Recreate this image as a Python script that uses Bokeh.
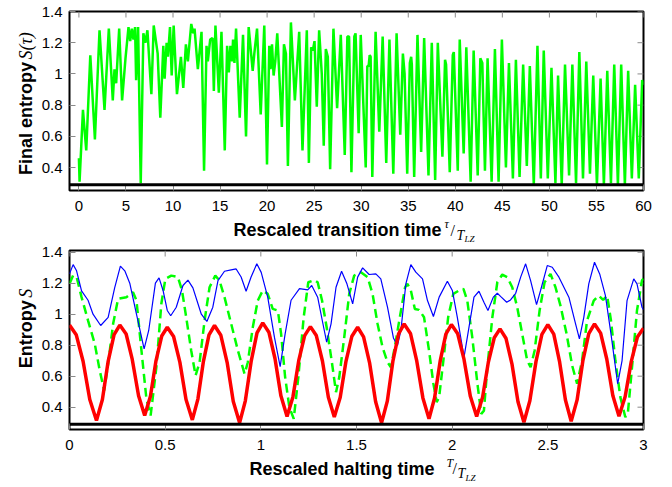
import math
from bokeh.plotting import figure
from bokeh.models import Label, FixedTicker, Range1d, Span
from bokeh.layouts import column, row
from bokeh.embed import file_html
from bokeh.resources import INLINE

# ---------------- data: top panel (final entropy vs tau/T_LZ) ----------------
top_x = [0.0, 0.07, 0.43, 0.78, 1.21, 1.70, 2.19, 2.72, 3.18, 3.60, 3.78, 3.96, 4.28, 4.59, 4.95,
         5.27, 5.45, 5.62, 5.80, 5.97, 6.08, 6.29, 6.57, 6.85, 7.06, 7.28, 7.70, 7.95, 8.37, 8.65,
         8.97, 9.11, 9.32, 9.46, 9.68, 9.86, 10.07, 10.42, 10.84, 11.09, 11.37, 11.58, 11.94, 12.15,
         12.29, 12.64, 13.03, 13.30, 13.56, 13.70, 13.95, 14.20, 14.34, 14.51, 14.87, 15.15, 15.50,
         15.75, 15.93, 16.10, 16.28, 16.38, 16.53, 16.70, 17.09, 17.44, 17.76, 18.04, 18.47, 18.64,
         18.93, 19.32, 19.70, 19.99, 20.23, 20.37, 20.52, 20.69, 20.87, 21.08, 21.57, 21.79, 22.00,
         22.21, 22.53, 22.95, 23.41, 23.76, 24.22, 24.44, 24.68, 24.86, 25.04, 25.28, 25.53, 25.81,
         26.02, 26.24, 26.45, 26.70, 27.05, 27.44, 27.83, 28.25, 28.53, 28.71, 28.96, 29.27, 29.40,
         29.73, 29.95, 30.48, 30.65, 30.79, 30.90, 31.00, 31.18, 31.53, 31.92, 32.28, 32.66, 33.00,
         33.41, 33.76, 34.15, 34.43, 34.61, 34.89, 35.17, 35.31, 35.38, 35.63, 35.98, 36.37, 36.69,
         37.15, 37.50, 37.86, 38.14, 38.63, 38.91, 39.02, 39.41, 39.73, 39.84, 40.26, 40.47, 40.89,
         41.17, 41.63, 41.95, 42.38, 42.66, 42.87, 43.15, 43.43, 43.86, 44.21, 44.60, 44.95, 45.38,
         45.70, 46.12, 46.44, 46.83, 47.21, 47.60, 47.92, 48.34, 48.73, 49.09, 49.40, 49.83, 50.22,
         50.64, 50.92, 51.31, 51.66, 52.09, 52.44, 52.83, 53.18, 53.57, 53.92, 54.31, 54.66, 55.05,
         55.44, 55.79, 56.15, 56.54, 56.89, 57.28, 57.63, 58.02, 58.37, 58.76, 59.11, 59.50, 59.86,
         60.00]
top_y = [0.46, 0.31, 0.77, 0.51, 1.12, 0.58, 1.28, 0.77, 1.29, 0.83, 1.03, 0.94, 1.29, 0.83, 1.10,
         1.30, 1.21, 1.29, 1.22, 1.30, 0.96, 1.30, 0.30, 1.26, 1.20, 1.28, 0.87, 1.31, 1.13, 0.72,
         1.18, 0.97, 1.20, 1.11, 1.30, 0.99, 1.31, 0.87, 1.11, 0.91, 1.19, 1.08, 1.32, 1.26,
         1.29, 1.03, 1.27, 0.38, 1.18, 1.08, 1.22, 1.23, 0.89, 1.31, 0.88, 1.27, 0.51,
         1.18, 1.01, 1.18, 1.08, 1.22, 1.07, 1.29, 0.72, 1.25, 0.60, 1.30, 1.02, 1.13,
         1.29, 0.74, 1.31, 0.42, 1.18, 1.03, 1.19, 0.99, 1.08, 1.26, 0.66, 1.19, 1.13,
         0.41, 1.33, 0.83, 1.27, 0.51, 1.28, 0.43, 1.17, 1.15, 1.21, 0.79, 1.28, 1.00,
         0.54, 1.16, 1.11, 0.39, 1.29, 0.78, 1.25, 0.48, 1.24, 1.24, 0.37, 1.24, 1.26,
         0.62, 1.25, 0.40, 1.05, 1.05, 1.12, 1.11, 0.34, 1.27, 0.63, 1.24, 0.43, 1.22,
         0.36, 1.26, 0.61, 1.13, 1.00, 0.36, 1.07, 1.11, 1.06, 0.34, 1.25, 0.50, 1.23,
         0.35, 1.20, 0.32, 1.20, 0.47, 1.09, 1.06, 0.37, 1.12, 1.14, 0.38, 1.22, 0.49,
         1.17, 0.31, 1.15, 0.35, 1.10, 1.07, 0.38, 1.10, 0.31, 1.16, 0.31, 1.22, 0.40,
         1.07, 0.33, 1.09, 0.34, 1.06, 0.41, 1.05, 0.29, 1.18, 0.33, 1.15, 0.33, 1.04,
         0.30, 0.99, 0.29, 1.06, 0.35, 1.06, 0.30, 1.14, 0.33, 1.08, 0.36, 0.99, 0.29,
         0.97, 0.29, 1.02, 0.30, 1.06, 0.29, 1.06, 0.29, 1.02, 0.33, 0.93, 0.33, 0.96,
         0.93]

# ---------------- data: bottom panel (entropy vs T/T_LZ) ----------------
red_x = [0.000, 0.035, 0.071, 0.106, 0.141, 0.172, 0.202, 0.233, 0.263, 0.296, 0.328, 0.361, 0.393,
         0.423, 0.452, 0.482, 0.511, 0.544, 0.577, 0.609, 0.642, 0.671, 0.700, 0.729, 0.758,
         0.791, 0.824, 0.856, 0.889, 0.919, 0.950, 0.980, 1.010, 1.042, 1.074, 1.105, 1.137,
         1.168, 1.198, 1.229, 1.259, 1.290, 1.322, 1.353, 1.384, 1.415, 1.445, 1.476, 1.506,
         1.537, 1.569, 1.600, 1.631, 1.661, 1.690, 1.720, 1.749, 1.782, 1.814, 1.847, 1.879,
         1.908, 1.938, 1.967, 1.996, 2.029, 2.062, 2.095, 2.128, 2.159, 2.189, 2.220, 2.250,
         2.281, 2.313, 2.344, 2.375, 2.406, 2.438, 2.469, 2.500, 2.531, 2.561, 2.592, 2.622,
         2.653, 2.683, 2.714, 2.744, 2.776, 2.808, 2.840, 2.872, 2.904, 2.936, 2.968, 3.000]
red_y = [0.930, 0.868, 0.696, 0.450, 0.314, 0.450, 0.696, 0.868, 0.930, 0.872, 0.708, 0.474, 0.346,
         0.471, 0.699, 0.859, 0.916, 0.856, 0.689, 0.450, 0.318, 0.452, 0.696, 0.866, 0.927,
         0.864, 0.688, 0.437, 0.299, 0.441, 0.699, 0.879, 0.944, 0.884, 0.714, 0.473, 0.340,
         0.468, 0.700, 0.862, 0.920, 0.862, 0.698, 0.464, 0.336, 0.464, 0.696, 0.858, 0.916,
         0.854, 0.682, 0.435, 0.299, 0.439, 0.695, 0.873, 0.937, 0.876, 0.704, 0.460, 0.325,
         0.459, 0.702, 0.872, 0.933, 0.874, 0.708, 0.470, 0.340, 0.464, 0.690, 0.848, 0.905,
         0.845, 0.676, 0.435, 0.303, 0.442, 0.694, 0.870, 0.933, 0.871, 0.696, 0.446, 0.309,
         0.447, 0.698, 0.874, 0.937, 0.878, 0.711, 0.473, 0.342, 0.467, 0.694, 0.853, 0.910]

blue_x = [0.000, 0.019, 0.037, 0.063, 0.097, 0.123, 0.163, 0.202, 0.236, 0.266, 0.289, 0.315, 0.350,
          0.390, 0.414, 0.449, 0.468, 0.489, 0.511, 0.529, 0.558, 0.593, 0.619, 0.645, 0.689,
          0.718, 0.749, 0.776, 0.810, 0.845, 0.871, 0.897, 0.923, 0.949, 0.979, 1.002, 1.036,
          1.071, 1.101, 1.127, 1.158, 1.202, 1.245, 1.266, 1.297, 1.323, 1.344, 1.367, 1.393,
          1.422, 1.450, 1.480, 1.506, 1.532, 1.566, 1.601, 1.627, 1.662, 1.693, 1.714, 1.732,
          1.758, 1.784, 1.810, 1.845, 1.871, 1.902, 1.932, 1.975, 2.001, 2.027, 2.062, 2.088,
          2.114, 2.140, 2.166, 2.187, 2.215, 2.236, 2.257, 2.285, 2.305, 2.332, 2.358, 2.384,
          2.410, 2.441, 2.462, 2.497, 2.523, 2.558, 2.610, 2.645, 2.665, 2.688, 2.714, 2.744,
          2.771, 2.801, 2.830, 2.865, 2.888, 2.914, 2.949, 2.966, 2.992, 3.000]
blue_y = [1.260, 1.320, 1.280, 1.150, 1.090, 1.000, 0.927, 0.980, 1.170, 1.310, 1.280, 1.200, 1.000,
          0.776, 0.895, 1.200, 1.234, 1.153, 1.024, 0.990, 1.045, 1.185, 1.220, 1.170, 1.000,
          0.953, 1.045, 1.217, 1.277, 1.286, 1.292, 1.240, 1.148, 1.240, 1.325, 1.270, 1.110,
          0.852, 0.662, 0.873, 1.090, 1.165, 1.157, 1.185, 1.110, 0.948, 0.820, 0.938, 1.174,
          1.277, 1.196, 1.067, 1.239, 1.299, 1.256, 1.260, 1.228, 1.045, 0.847, 0.798, 0.895,
          1.196, 1.320, 1.271, 1.228, 1.088, 0.985, 1.110, 1.213, 1.153, 0.980, 0.723, 0.916,
          1.110, 1.148, 1.077, 1.024, 1.110, 1.135, 1.110, 1.077, 1.092, 1.135, 1.239, 1.325,
          1.217, 1.062, 1.153, 1.314, 1.303, 1.239, 1.110, 0.938, 0.841, 0.980, 1.196, 1.335,
          1.260, 1.120, 0.873, 0.551, 0.701, 1.088, 1.228, 1.196, 1.045, 1.030]

green_x = [0.000, 0.019, 0.037, 0.063, 0.097, 0.132, 0.158, 0.181, 0.202, 0.228, 0.254, 0.297, 0.332,
           0.350, 0.376, 0.402, 0.424, 0.454, 0.480, 0.501, 0.532, 0.567, 0.588, 0.610, 0.636,
           0.659, 0.680, 0.706, 0.732, 0.762, 0.784, 0.810, 0.845, 0.880, 0.915, 0.932, 0.958,
           0.984, 1.010, 1.036, 1.062, 1.089, 1.106, 1.127, 1.149, 1.172, 1.196, 1.224, 1.248,
           1.280, 1.297, 1.320, 1.344, 1.370, 1.393, 1.410, 1.436, 1.462, 1.488, 1.523, 1.558,
           1.584, 1.610, 1.636, 1.662, 1.680, 1.700, 1.728, 1.754, 1.766, 1.784, 1.805, 1.827,
           1.853, 1.879, 1.902, 1.919, 1.932, 1.954, 1.979, 2.006, 2.036, 2.059, 2.079, 2.105,
           2.132, 2.152, 2.166, 2.184, 2.210, 2.236, 2.262, 2.288, 2.314, 2.340, 2.366, 2.392,
           2.410, 2.431, 2.457, 2.483, 2.514, 2.540, 2.566, 2.598, 2.627, 2.653, 2.679, 2.705,
           2.740, 2.766, 2.789, 2.810, 2.830, 2.853, 2.879, 2.905, 2.918, 2.940, 2.966, 2.992,
           3.000]
green_y = [1.196, 1.250, 1.240, 1.110, 0.959, 0.809, 0.637, 0.508, 0.680, 0.938, 1.100, 1.110, 1.142,
           1.088, 0.766, 0.454, 0.346, 0.658, 1.067, 1.228, 1.249, 1.239, 1.153, 0.980, 0.766,
           0.604, 0.690, 0.959, 1.174, 1.249, 1.217, 1.110, 0.938, 0.766, 0.615, 0.690, 0.916,
           1.088, 1.153, 1.131, 1.034, 1.024, 0.873, 0.594, 0.400, 0.325, 0.594, 0.980, 1.206,
           1.220, 1.206, 1.088, 0.916, 0.701, 0.497, 0.594, 0.852, 1.131, 1.249, 1.270, 1.239,
           1.131, 0.938, 0.787, 0.690, 0.658, 0.787, 0.991, 1.174, 1.196, 1.153, 1.034, 1.028,
           0.980, 0.766, 0.551, 0.433, 0.465, 0.701, 0.980, 1.131, 1.153, 1.163, 1.088, 0.852,
           0.551, 0.357, 0.378, 0.658, 0.980, 1.206, 1.256, 1.239, 1.174, 1.045, 0.873, 0.701,
           0.658, 0.766, 1.024, 1.206, 1.260, 1.174, 1.055, 0.873, 0.669, 0.551, 0.701, 0.959,
           1.088, 1.120, 1.092, 1.120, 0.959, 0.701, 0.465, 0.336, 0.357, 0.658, 1.024, 1.217,
           1.230]

floor_level = 0.29

top_xrange = (-1, 60)
top_yrange = (0.253, 1.40)
bot_xrange = (0, 3)
bot_yrange = (0.256, 1.411)
top_xticks = [0, 5, 10, 15, 20, 25, 30, 35, 40, 45, 50, 55, 60]
bot_xticks = [0, 0.5, 1, 1.5, 2, 2.5, 3]
bot_xtick_labels = ["0", "0.5", "1", "1.5", "2", "2.5", "3"]
yticks = [0.4, 0.6, 0.8, 1.0, 1.2, 1.4]
ytick_labels = ["0.4", "0.6", "0.8", "1", "1.2", "1.4"]

SANS = "Liberation Sans"
SERIF = "Liberation Serif"
TICK_GREY = "#8a8a8a"


def style(p, xt, xlabels, yt, ylabels, xr, yr):
    p.outline_line_color = "black"
    p.outline_line_width = 2
    p.grid.visible = False
    p.background_fill_color = "white"
    p.border_fill_color = "white"
    p.xaxis.ticker = FixedTicker(ticks=xt)
    p.yaxis.ticker = FixedTicker(ticks=yt)
    if xlabels is not None:
        p.xaxis.major_label_overrides = {float(t): s for t, s in zip(xt, xlabels)}
    p.yaxis.major_label_overrides = {float(t): s for t, s in zip(yt, ylabels)}
    for ax in [p.xaxis[0], p.yaxis[0]]:
        ax.axis_line_color = None
        ax.major_tick_in = 6
        ax.major_tick_out = 0
        ax.major_tick_line_color = TICK_GREY
        ax.minor_tick_line_color = None
        ax.major_label_text_font = SANS
        ax.major_label_text_font_size = "15px"
        ax.major_label_text_color = "black"
    p.xaxis.major_label_standoff = 10
    p.yaxis.major_label_standoff = 7
    # mirrored inward ticks on the top and right edges
    p.ray(x=xt, y=[yr[1]] * len(xt), length=6, length_units="screen",
          angle=-math.pi / 2, line_color=TICK_GREY, line_width=1)
    p.ray(x=[xr[1]] * len(yt), y=yt, length=6, length_units="screen",
          angle=math.pi, line_color=TICK_GREY, line_width=1)


def text_fig(w, h):
    f = figure(width=w, height=h, output_backend="svg", toolbar_location=None,
               x_range=Range1d(0, w), y_range=Range1d(0, h),
               x_axis_type=None, y_axis_type=None, min_border=0)
    f.outline_line_color = None
    f.grid.visible = False
    f.background_fill_color = "white"
    f.border_fill_color = "white"
    return f


def lab(p, x, y, text, size, font=SANS, fstyle="bold", align="left", angle=0.0):
    p.add_layout(Label(x=x, y=y, text=text,
                       text_font=font, text_font_size=f"{size}px", text_font_style=fstyle,
                       text_align=align, text_baseline="middle", angle=angle,
                       text_color="black"))


# ---------------- top figure ----------------
p1 = figure(width=634, height=216, output_backend="svg", toolbar_location=None,
            x_range=Range1d(*top_xrange), y_range=Range1d(*top_yrange),
            min_border_left=30, min_border_right=29, min_border_top=11, min_border_bottom=26)
style(p1, top_xticks, None, yticks, ytick_labels, top_xrange, top_yrange)
p1.add_layout(Span(location=floor_level, dimension="width", line_color="black", line_width=3))
p1.line(top_x, top_y, line_color="#00ff00", line_width=2.5)

ylab1 = text_fig(38, 216)
lab(ylab1, 25, 155, "Final entropy", 18, align="right", angle=math.pi / 2)
lab(ylab1, 25, 158, "S(τ)", 18, font=SERIF, fstyle="italic", align="left", angle=math.pi / 2)

xlab1 = text_fig(672, 27)
lab(xlab1, 441, 14, "Rescaled transition time", 18, align="right")
lab(xlab1, 444, 20, "τ", 12, font=SERIF, fstyle="italic")
lab(xlab1, 450, 13, "/", 16, font=SERIF, fstyle="normal")
lab(xlab1, 456, 8, "T", 14, font=SERIF, fstyle="italic")
lab(xlab1, 464, 5, "LZ", 9, font=SERIF, fstyle="italic")

# ---------------- bottom figure ----------------
p2 = figure(width=634, height=212, output_backend="svg", toolbar_location=None,
            x_range=Range1d(*bot_xrange), y_range=Range1d(*bot_yrange),
            min_border_left=30, min_border_right=29, min_border_top=7, min_border_bottom=26)
style(p2, bot_xticks, bot_xtick_labels, yticks, ytick_labels, bot_xrange, bot_yrange)
p2.add_layout(Span(location=floor_level, dimension="width", line_color="black", line_width=3))
p2.line(green_x, green_y, line_color="#00ff00", line_width=2.5, line_dash="9 5")
p2.line(blue_x, blue_y, line_color="#0000ff", line_width=1.2)
p2.line(red_x, red_y, line_color="#ff0000", line_width=3.5)

ylab2 = text_fig(38, 212)
lab(ylab2, 25, 153, "Entropy", 18, align="right", angle=math.pi / 2)
lab(ylab2, 25, 156, "S", 18, font=SERIF, fstyle="italic", align="left", angle=math.pi / 2)

xlab2 = text_fig(672, 32)
lab(xlab2, 434, 19, "Rescaled halting time", 18, align="right")
lab(xlab2, 446, 25, "T", 12, font=SERIF, fstyle="italic")
lab(xlab2, 452, 19, "/", 16, font=SERIF, fstyle="normal")
lab(xlab2, 457, 14, "T", 14, font=SERIF, fstyle="italic")
lab(xlab2, 465, 10, "LZ", 9, font=SERIF, fstyle="italic")

layout = column(row(ylab1, p1), xlab1, row(ylab2, p2), xlab2)
open("out.html", "w").write(file_html(layout, INLINE))
